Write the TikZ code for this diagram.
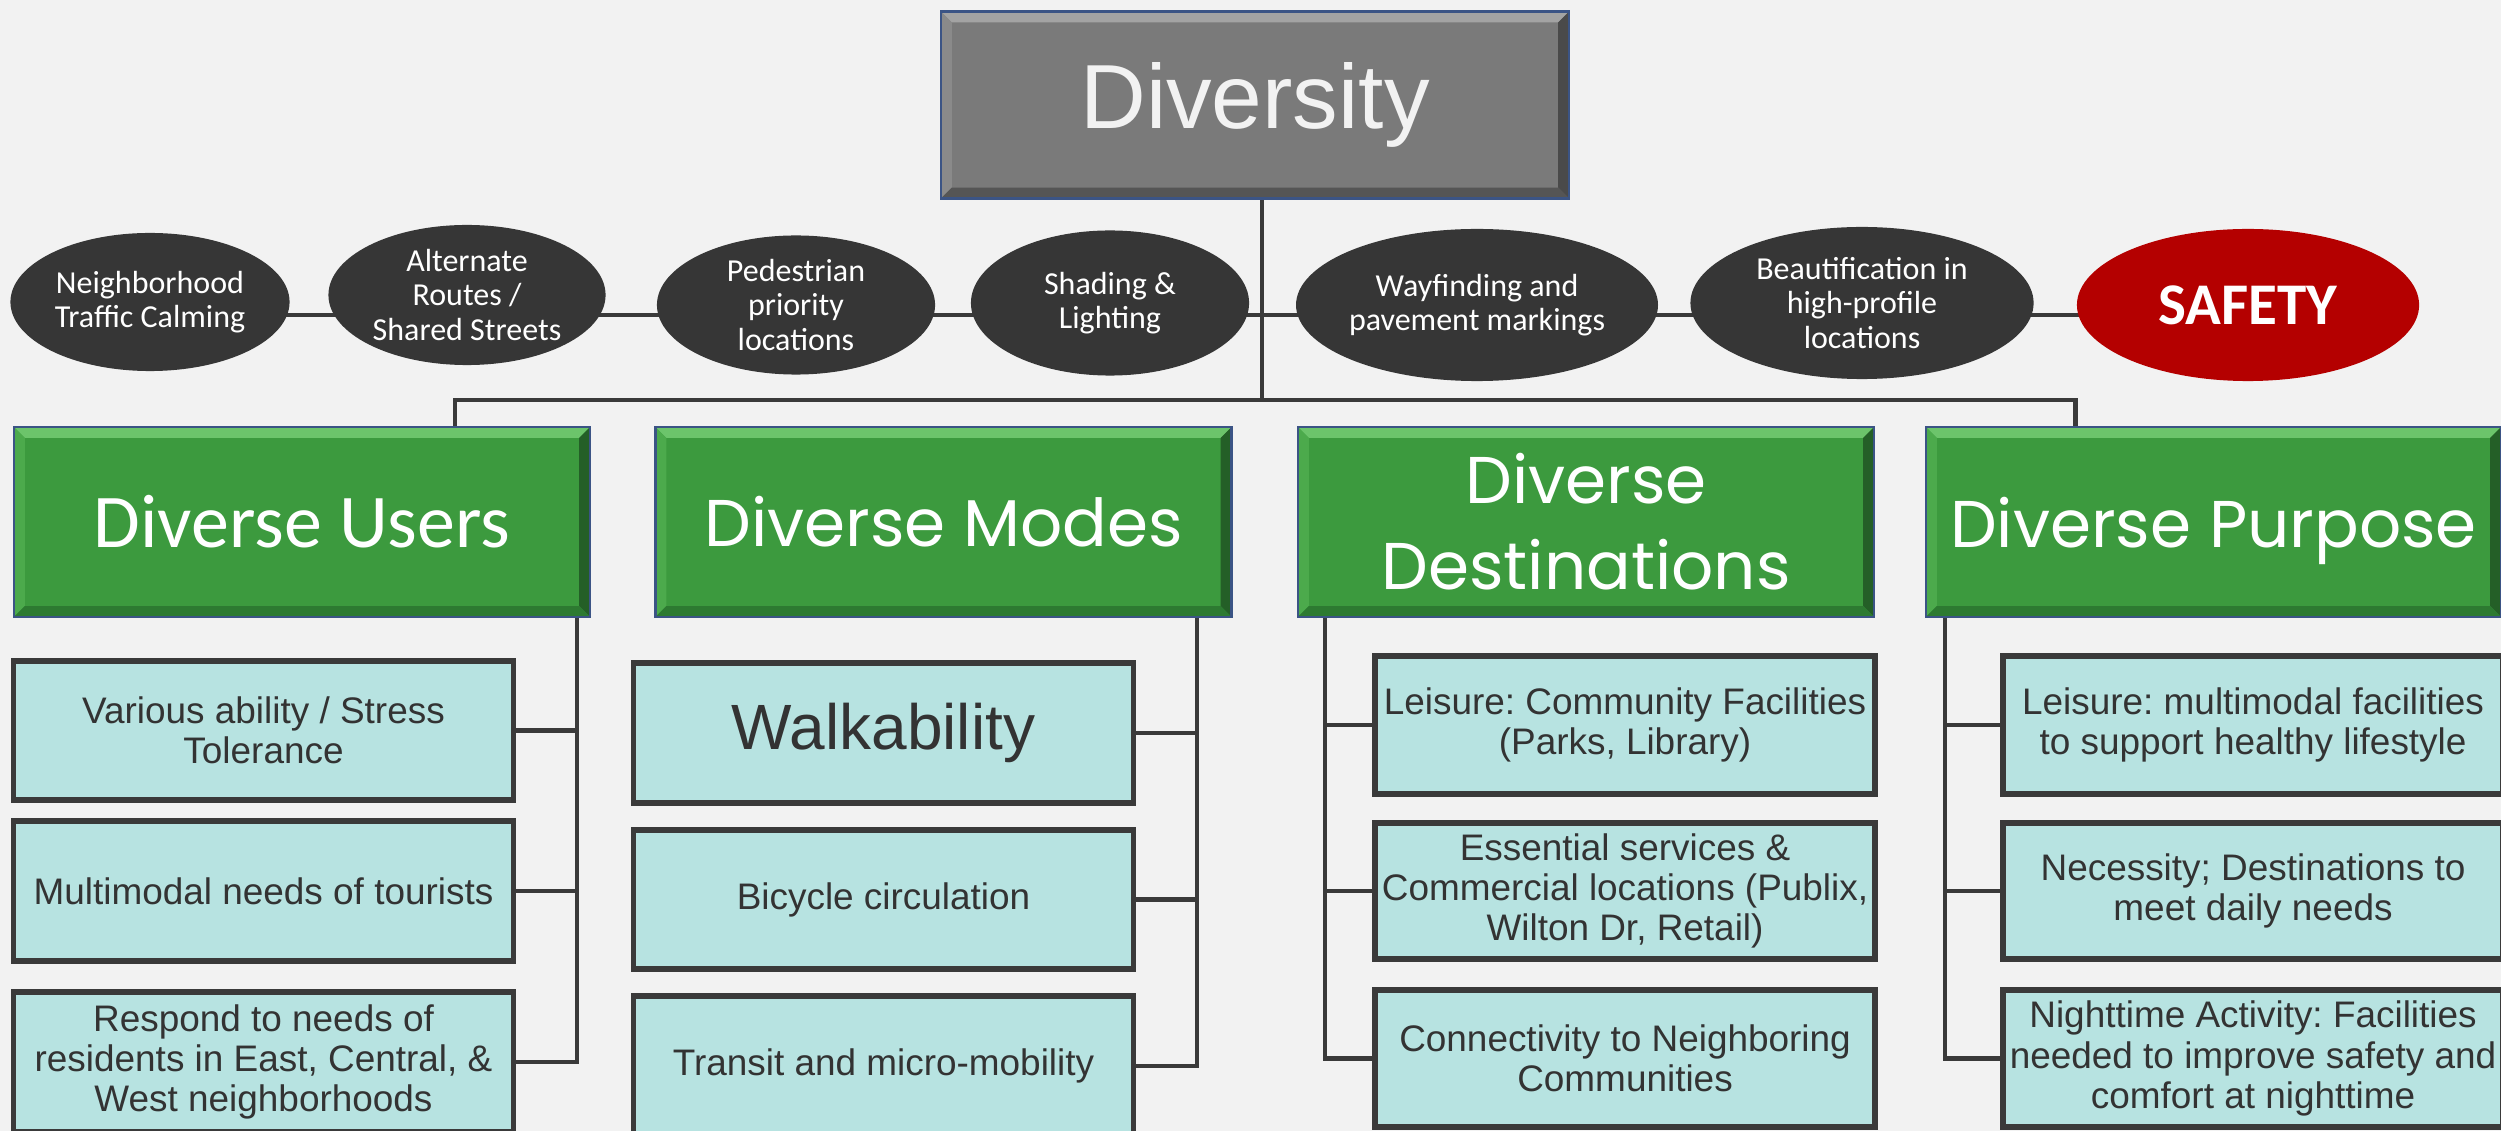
\documentclass[tikz,border=0pt]{standalone}
\usepackage{fontspec}
\setmainfont{Liberation Sans}
\newfontfamily\carlito{Carlito}
\newfontfamily\popfont{Poppins}
\usetikzlibrary{shapes.geometric}
\frenchspacing
\pgfdeclarelayer{bg}
\pgfdeclarelayer{lines}
\pgfsetlayers{bg,lines,main}
\definecolor{bgc}{HTML}{F2F2F2}
\definecolor{linec}{HTML}{3A3A3A}
\definecolor{ellc}{HTML}{363636}
\definecolor{redc}{HTML}{B40000}
\definecolor{tealc}{HTML}{B7E3E1}
\definecolor{txtc}{HTML}{333333}
\definecolor{grn}{HTML}{3C9A3E}
\definecolor{grnT}{HTML}{6CC46B}
\definecolor{grnL}{HTML}{4CAA4C}
\definecolor{grnR}{HTML}{245F27}
\definecolor{grnB}{HTML}{2D7A31}
\definecolor{gry}{HTML}{7A7A7A}
\definecolor{gryT}{HTML}{A3A3A3}
\definecolor{gryL}{HTML}{8A8A8A}
\definecolor{gryR}{HTML}{4A4A4A}
\definecolor{gryB}{HTML}{555555}
\definecolor{edgeb}{HTML}{3B5485}
\def\bv{0.11cm}
\tikzset{
  bevel/.style n args={4}{path picture={
    \coordinate (NW) at (path picture bounding box.north west);
    \coordinate (NE) at (path picture bounding box.north east);
    \coordinate (SW) at (path picture bounding box.south west);
    \coordinate (SE) at (path picture bounding box.south east);
    \fill[#1] (NW) -- (NE) -- ([shift={(-\bv,-\bv)}]NE) -- ([shift={(\bv,-\bv)}]NW) -- cycle;
    \fill[#2] (NW) -- ([shift={(\bv,-\bv)}]NW) -- ([shift={(\bv,\bv)}]SW) -- (SW) -- cycle;
    \fill[#3] (NE) -- ([shift={(-\bv,-\bv)}]NE) -- ([shift={(-\bv,\bv)}]SE) -- (SE) -- cycle;
    \fill[#4] (SW) -- ([shift={(\bv,\bv)}]SW) -- ([shift={(-\bv,\bv)}]SE) -- (SE) -- cycle;
  }},
  conn/.style={draw=linec, line width=1.4pt},
  oval/.style={ellipse, fill=ellc, text=white, inner sep=0pt, align=center,
    font=\carlito\fontsize{9.1}{9.7}\selectfont},
  leaf/.style={draw=linec, line width=1.6pt, fill=tealc, text=txtc, inner sep=0pt,
    minimum width=5.0cm, align=center, font=\fontsize{10.5}{11.4}\selectfont},
  head/.style={fill=grn, draw=edgeb, line width=0.7pt, bevel={grnT}{grnL}{grnR}{grnB},
    text=white, minimum width=5.76cm, minimum height=1.9cm, inner sep=0pt, align=center},
  headpop/.style={head, font=\popfont\fontsize{18.8}{24.5}\selectfont},
  topbox/.style={fill=gry, draw=edgeb, line width=0.7pt, bevel={gryT}{gryL}{gryR}{gryB},
    text=bgc, inner sep=0pt, font=\fontsize{25.9}{30}\selectfont}
}
\begin{document}
\begin{tikzpicture}[x=0.01cm,y=-0.01cm]
\useasboundingbox (0,0) rectangle (2501,1131);
\begin{pgfonlayer}{bg}
\fill[bgc] (0,0) rectangle (2501,1131);
\end{pgfonlayer}

% top
\node[topbox, minimum width=6.28cm, minimum height=1.87cm] (div) at (1255,105) {Diversity};

% ellipses
\node[oval, minimum width=2.79cm, minimum height=1.38cm] (e1) at (150,302) {Neighborhood\\Traffic Calming};
\node[oval, minimum width=2.77cm, minimum height=1.40cm] (e2) at (467,295) {Alternate\\Routes /\\Shared Streets};
\node[oval, minimum width=2.78cm, minimum height=1.39cm] (e3) at (796,305) {Pedestrian\\priority\\locations};
\node[oval, minimum width=2.78cm, minimum height=1.45cm] (e4) at (1110,303) {Shading \&\\Lighting};
\node[oval, minimum width=3.42cm, minimum height=1.52cm] (e5) at (1477,305) {Wayfinding and\\pavement markings};
\node[oval, minimum width=3.43cm, minimum height=1.52cm] (e6) at (1862,303) {Beautification in\\high-profile\\locations};
\node[oval, fill=redc, minimum width=3.42cm, minimum height=1.52cm,
  font=\carlito\bfseries\fontsize{16.8}{18}\selectfont] (e7) at (2248,305) {SAFETY};

% green headers
\node[head, font=\carlito\fontsize{21.6}{26}\selectfont] (users) at (302,522) {Diverse Users};
\node[headpop] (modes) at (943.5,522) {Diverse Modes};
\node[headpop] (dest) at (1586,522) {Diverse\\Destinations};
\node[headpop, minimum width=5.75cm, text depth=0pt] (purp) at (2213.5,522) {Diverse Purpose};

% users leaves
\node[leaf, minimum height=1.39cm] (u1) at (263.5,730.5) {Various ability / Stress\\Tolerance};
\node[leaf, minimum height=1.40cm] (u2) at (263.5,891) {Multimodal needs of tourists};
\node[leaf, minimum height=1.40cm] (u3) at (263.5,1062) {Respond to needs of\\residents in East, Central, \&\\West neighborhoods};

% modes leaves
\node[leaf, minimum height=1.40cm, font=\fontsize{18.2}{20}\selectfont] (m1) at (883.5,733) {Walkability};
\node[leaf, minimum height=1.39cm] (m2) at (883.5,899.5) {Bicycle circulation};
\node[leaf, minimum height=1.40cm] (m3) at (883.5,1066) {Transit and micro-mobility};

% destinations leaves
\node[leaf, minimum height=1.38cm] (d1) at (1625,725) {Leisure: Community Facilities\\(Parks, Library)};
\node[leaf, minimum height=1.36cm] (d2) at (1625,891) {Essential services \&\\Commercial locations (Publix,\\Wilton Dr, Retail)};
\node[leaf, minimum height=1.37cm] (d3) at (1625,1058.5) {Connectivity to Neighboring\\Communities};

% purpose leaves
\node[leaf, minimum height=1.38cm] (p1) at (2253,725) {Leisure: multimodal facilities\\to support healthy lifestyle};
\node[leaf, minimum height=1.36cm] (p2) at (2253,891) {Necessity; Destinations to\\meet daily needs};
\node[leaf, minimum height=1.37cm] (p3) at (2253,1058.5) {Nighttime Activity: Facilities\\needed to improve safety and\\comfort at nighttime};

\begin{pgfonlayer}{lines}
\coordinate (trunk) at (1262,400);
\coordinate (bl) at (455,400);
\coordinate (br) at (2075,400);
\coordinate (rowy) at (0,315);
\draw[conn] (div.south -| trunk) -- (trunk);
\draw[conn] (users.north -| bl) -- (bl) -- (br) -- (purp.north -| br);
\draw[conn] (e1 |- rowy) -- (e7 |- rowy);
% users spine
\coordinate (su) at (577,0);
\draw[conn] (users.south -| su) |- (u3.east);
\draw[conn] (u1.east) -- (u1.east -| su);
\draw[conn] (u2.east) -- (u2.east -| su);
% modes spine
\coordinate (sm) at (1197,0);
\draw[conn] (modes.south -| sm) |- (m3.east);
\draw[conn] (m1.east) -- (m1.east -| sm);
\draw[conn] (m2.east) -- (m2.east -| sm);
% dest spine
\coordinate (sd) at (1325,0);
\draw[conn] (dest.south -| sd) |- (d3.west);
\draw[conn] (d1.west) -- (d1.west -| sd);
\draw[conn] (d2.west) -- (d2.west -| sd);
% purpose spine
\coordinate (sp) at (1945,0);
\draw[conn] (purp.south -| sp) |- (p3.west);
\draw[conn] (p1.west) -- (p1.west -| sp);
\draw[conn] (p2.west) -- (p2.west -| sp);
\end{pgfonlayer}
\end{tikzpicture}
\end{document}
